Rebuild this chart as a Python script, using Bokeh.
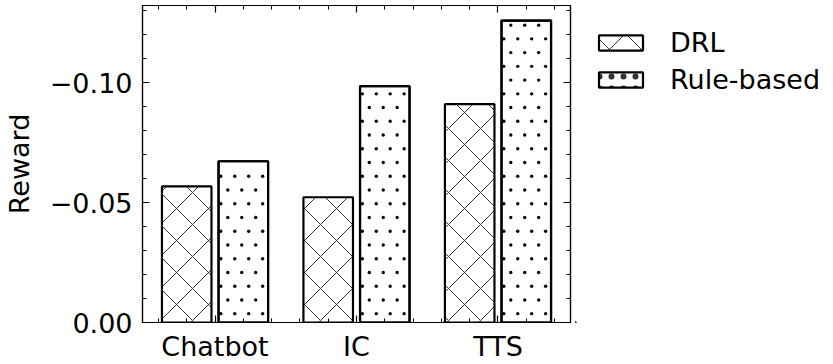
from bokeh.plotting import figure
from bokeh.layouts import row
from bokeh.models import (ColumnDataSource, FixedTicker, LinearAxis, Legend, LegendItem, Range1d)
from bokeh.embed import file_html
from bokeh.resources import INLINE

categories = ["Chatbot", "IC", "TTS"]
drl = [0.0567, 0.0522, 0.0910]
rule_based = [0.0672, 0.0985, 0.1258]
y_ticks = [0.0, 0.05, 0.10]
y_tick_labels = ["0.00", "\u22120.05", "\u22120.10"]

FONT = "DejaVu Sans"
FS = "27px"

X0, X1 = -0.5125, 2.5125
Y0, Y1 = 0.0, 0.1321
FRAME_W, FRAME_H = 430, 323
BAR_W = 0.35
OFFSET = 0.2

idx = list(range(len(categories)))
src = ColumnDataSource(dict(
    cat=categories,
    x_drl=[i - OFFSET for i in idx],
    x_rule=[i + OFFSET for i in idx],
    drl=drl,
    rule=rule_based,
))

# matplotlib-like '.' hatch for the rule-based bars: staggered small dots inside each bar
px_x = (X1 - X0) / FRAME_W
px_y = (Y1 - Y0) / FRAME_H
dx, dy = 14 * px_x, 14 * px_y
dot_x, dot_y = [], []
for i, top in zip(idx, rule_based):
    left = i + OFFSET - BAR_W / 2
    right = i + OFFSET + BAR_W / 2
    k = 0
    y = 9 * px_y
    while y <= top - 4 * px_y:
        x = left + (2.3 + (7 if k % 2 else 0)) * px_x
        while x <= right:
            dot_x.append(x)
            dot_y.append(y)
            x += dx
        y += dy
        k += 1
dots = ColumnDataSource(dict(x=dot_x, y=dot_y))

p = figure(width=575, height=364, output_backend="svg", toolbar_location=None,
           x_range=Range1d(X0, X1), y_range=Range1d(Y0, Y1),
           min_border_left=140, min_border_right=5, min_border_top=5, min_border_bottom=36,
           x_axis_location=None, y_axis_location=None)
p.grid.visible = False
p.outline_line_color = "black"
p.outline_line_width = 1.2
p.background_fill_color = "white"
p.border_fill_color = "white"

bar_style = dict(width=BAR_W, fill_color="white", line_color="black", line_width=2.2)
cross_style = dict(hatch_pattern="diagonal_cross", hatch_color="black", hatch_scale=32, hatch_weight=0.8)
r1 = p.vbar(x="x_drl", top="drl", source=src, **bar_style, **cross_style)
r2 = p.vbar(x="x_rule", top="rule", source=src, **bar_style)
p.scatter(x="x", y="y", source=dots, size=3.4, fill_color="black", line_color=None)
# redraw rule-based outlines on top of the dots
p.vbar(x="x_rule", top="rule", source=src, width=BAR_W, fill_color=None,
       line_color="black", line_width=2.2)

x_minor = [round(-0.4 + 0.2 * k, 2) for k in range(15)]
y_minor = [round(0.01 * k, 2) for k in range(14)]

def style(ax, labels=True):
    ax.axis_line_color = "black"
    ax.axis_line_width = 1.2
    ax.major_tick_in = 7
    ax.major_tick_out = 0
    ax.minor_tick_in = 4
    ax.minor_tick_out = 0
    ax.major_tick_line_width = 1.2
    ax.minor_tick_line_width = 1.0
    ax.major_label_text_font = FONT
    ax.major_label_text_font_size = FS
    ax.major_label_text_color = "black"
    if not labels:
        ax.major_label_standoff = 0

bx = LinearAxis(ticker=FixedTicker(ticks=idx, minor_ticks=x_minor),
                major_label_overrides={i: c for i, c in zip(idx, categories)})
style(bx)
bx.major_label_standoff = 8
p.add_layout(bx, "below")

tx = LinearAxis(ticker=FixedTicker(ticks=idx, minor_ticks=x_minor),
                major_label_overrides={i: "" for i in idx})
style(tx, labels=False)
p.add_layout(tx, "above")

ly = LinearAxis(ticker=FixedTicker(ticks=y_ticks, minor_ticks=y_minor),
                major_label_overrides={t: l for t, l in zip(y_ticks, y_tick_labels)},
                axis_label="Reward")
style(ly)
ly.major_label_standoff = 10
ly.axis_label_text_font = FONT
ly.axis_label_text_font_size = FS
ly.axis_label_text_font_style = "normal"
ly.axis_label_text_color = "black"
ly.axis_label_standoff = 12
p.add_layout(ly, "left")

ry = LinearAxis(ticker=FixedTicker(ticks=y_ticks, minor_ticks=y_minor),
                major_label_overrides={t: "" for t in y_ticks})
style(ry, labels=False)
p.add_layout(ry, "right")

# legend panel (separate figure to the right of the axes box); its proxy bars
# use the same data but lie far outside its visible ranges
pl = figure(width=258, height=364, output_backend="svg", toolbar_location=None,
            min_border=0, x_axis_location=None, y_axis_location=None,
            x_range=Range1d(100, 101), y_range=Range1d(100, 101))
pl.grid.visible = False
pl.outline_line_color = None
pl.background_fill_color = "white"
pl.border_fill_color = "white"
l1 = pl.vbar(x="x_drl", top="drl", source=src, **bar_style, **cross_style)
l2 = pl.vbar(x="x_rule", top="rule", source=src, **bar_style,
             hatch_pattern="dot", hatch_color="black", hatch_scale=12, hatch_alpha=0.8)

legend = Legend(items=[LegendItem(label="DRL", renderers=[l1]),
                       LegendItem(label="Rule-based", renderers=[l2])],
                location=(18, 227), padding=0, margin=0, spacing=6,
                glyph_width=55, glyph_height=19, label_standoff=22,
                label_text_font=FONT, label_text_font_size=FS,
                label_text_color="black",
                border_line_alpha=0, background_fill_alpha=0)
pl.add_layout(legend, "center")

layout = row(p, pl, spacing=0)
open("out.html", "w").write(file_html(layout, INLINE))
